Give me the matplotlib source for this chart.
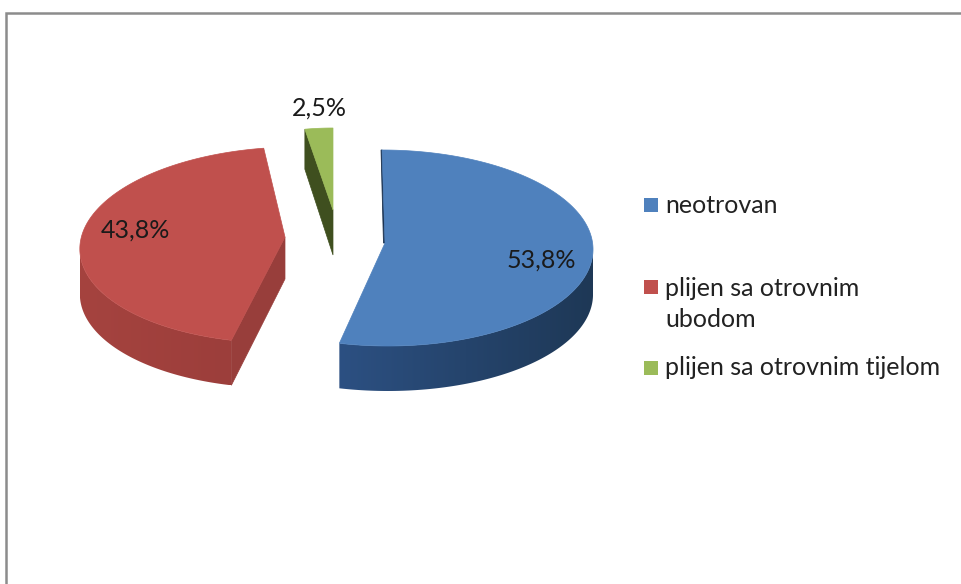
#!/usr/bin/env python3
"""Exploded pseudo-3D pie, drawn in pixel coordinates"""
import numpy as np
import matplotlib
matplotlib.use('Agg')
import matplotlib.pyplot as plt
from matplotlib.patches import Polygon, Rectangle

categories = ['neotrovan', 'plijen sa otrovnim\nubodom', 'plijen sa otrovnim tijelom']
values = [53.8, 43.8, 2.5]

# ================= style =================
TOP_COLORS = ['#4f81bd', '#c0504d', '#9bbb59']
WALL_LEFT = ['#2c5082', '#a5433f', '#44561f']
WALL_RIGHT = ['#1e3856', '#9c3e3b', '#44561f']
CUT_COLORS = ['#1b3250', '#983e3b', '#3f4f1f']

RY = 98
DEPTH = 45
# ellipse centre x, y, apex x, y, skew of x against y, x radius
GEOM = [(385, 248, 385, 243, 0.03, 208),
        (288, 245, 285, 237, -0.085, 208),
        (333, 226, 333, 210, 0.0, 180)]
LABEL_POS = [(541, 260), (135, 230), (319, 108)]
LEGEND_BASE = [213, 327, 375]  # baseline of the last line of each entry
SWATCH_MID = [205, 287, 368]

plt.rcParams['font.family'] = ['Lato', 'DejaVu Sans']


def rim(angles, geom):
    cx, cy, _, _, skew, rx = geom
    dy = -np.cos(angles) * RY
    return np.column_stack([cx + np.sin(angles) * rx + skew * dy, cy + dy])


fig = plt.figure(figsize=(9.61, 5.84), dpi=100)
ax = fig.add_axes([0, 0, 1, 1])

# outer frame, open at right and bottom
ax.plot([6, 6, 961], [584, 13, 13], color='#8c8c8c', lw=1.8, solid_joinstyle='miter')

total = sum(values)
bounds = np.cumsum([0] + values) / total * 2 * np.pi

for i in range(len(values)):
    a0, a1 = bounds[i], bounds[i + 1]
    geom = GEOM[i]
    apex = np.array(geom[2:4], dtype=float)
    down = np.array([0, DEPTH])
    arc = rim(np.linspace(a0, a1, 200), geom)
    start = rim(np.array([a0]), geom)[0]

    # outer wall: only the front part of the rim is visible, shaded left to right
    lo, hi = max(a0, np.pi / 2), min(a1, 3 * np.pi / 2)
    if hi > lo:
        pts = rim(np.linspace(lo, hi, 200), geom)
        wall = np.vstack([pts, (pts + down)[::-1]])
        x0, x1 = wall[:, 0].min(), wall[:, 0].max()
        y0, y1 = wall[:, 1].min(), wall[:, 1].max()
        left = np.array(matplotlib.colors.to_rgb(WALL_LEFT[i]))
        right = np.array(matplotlib.colors.to_rgb(WALL_RIGHT[i]))
        t = np.linspace(0, 1, 256)[None, :, None]
        grad = left + (right - left) * t
        im = ax.imshow(grad, extent=(x0, x1, y1, y0), aspect='auto', zorder=1)
        clip = Polygon(wall, transform=ax.transData, fc='none', ec='none')
        ax.add_patch(clip)
        im.set_clip_path(clip)

    # cut faces
    if i == 0:
        # thin dark sliver along the start edge
        ax.add_patch(Polygon([start, apex, apex + [-1.5, 0], start + [-1, 0]],
                             fc=CUT_COLORS[i], ec=CUT_COLORS[i], lw=0.6, zorder=2))
    elif i == 1:
        ax.add_patch(Polygon([apex, start, start + down, apex + [0, DEPTH - 3]],
                             fc=CUT_COLORS[i], ec=CUT_COLORS[i], lw=0.5, zorder=2))
    else:
        ax.add_patch(Polygon([start, apex, apex + down, start + [0, DEPTH - 5]],
                             fc=CUT_COLORS[i], ec=CUT_COLORS[i], lw=0.5, zorder=2))

    ax.add_patch(Polygon(np.vstack([apex, arc]), fc=TOP_COLORS[i], ec=TOP_COLORS[i],
                         lw=0.5, zorder=3))

    txt = f'{values[i]:.1f}%'.replace('.', ',')
    ax.text(*LABEL_POS[i], txt, fontsize=18, color='#1a1a1a', ha='center', va='center', zorder=4)

# legend
for i, name in enumerate(categories):
    ax.add_patch(Rectangle((644, SWATCH_MID[i] - 7), 14, 14, fc=TOP_COLORS[i], ec='none'))
    ax.text(665, LEGEND_BASE[i], name, fontsize=18, color='#222222', ha='left', va='baseline',
            linespacing=1.4)

ax.set_xlim(0, 961)
ax.set_ylim(584, 0)
ax.axis('off')

plt.savefig('out.png', dpi=100)
plt.close()
